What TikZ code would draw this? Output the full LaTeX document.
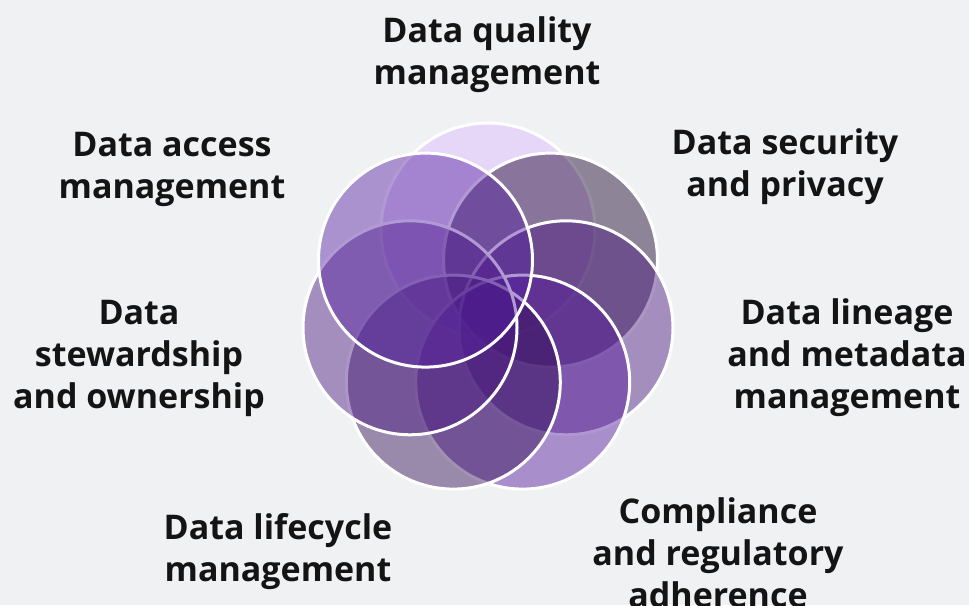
\documentclass[tikz,border=0pt]{standalone}
\usepackage{fontspec}
\setmainfont{Open Sans}[BoldFont={* Bold}]
\definecolor{bgc}{RGB}{240,241,243}
\definecolor{cq}{RGB}{218,183,255}
\definecolor{cs}{RGB}{24,0,43}
\definecolor{cl}{RGB}{73,23,125}
\definecolor{cc}{RGB}{82,23,156}
\definecolor{clc}{RGB}{49,12,85}
\definecolor{cst}{RGB}{73,23,127}
\definecolor{ca}{RGB}{84,32,160}
\definecolor{txt}{RGB}{20,20,20}
\begin{document}
\begin{tikzpicture}[x=1pt,y=-1pt,
  petal/.style={draw=white, line width=3pt, fill opacity=0.45},
  lbl/.style={align=center, font=\fontsize{34}{42}\selectfont\bfseries, text=txt, inner sep=0pt}]
\fill[bgc] (0,0) rectangle (969,605);
\useasboundingbox (0,0) rectangle (969,605);
\coordinate (cQ) at (488,230);
\coordinate (cS) at (550.5,260.1);
\coordinate (cL) at (566.0,327.8);
\coordinate (cC) at (522.7,382.1);
\coordinate (cLc) at (453.3,382.1);
\coordinate (cSt) at (410.0,327.8);
\coordinate (cA) at (425.5,260.1);
\path[petal, fill=cq] (cQ) circle (107pt);
\path[petal, fill=cs] (cS) circle (107pt);
\path[petal, fill=cl] (cL) circle (107pt);
\path[petal, fill=cc] (cC) circle (107pt);
\path[petal, fill=clc] (cLc) circle (107pt);
\path[petal, fill=cst] (cSt) circle (107pt);
\path[petal, fill=ca] (cA) circle (107pt);
\node[lbl] (tQ) at (487,55) {Data quality\\management};
\node[lbl] (tA) at (172,169) {Data access\\management};
\node[lbl] (tS) at (785,167) {Data security\\and privacy};
\node[lbl] (tL) at (847,358) {Data lineage\\and metadata\\management};
\node[lbl] (tSt) at (139,358) {Data\\stewardship\\and ownership};
\node[lbl] (tLc) at (278,552) {Data lifecycle\\management};
\node[lbl] (tC) at (718,553) {Compliance\\and regulatory\\adherence};
\end{tikzpicture}
\end{document}
